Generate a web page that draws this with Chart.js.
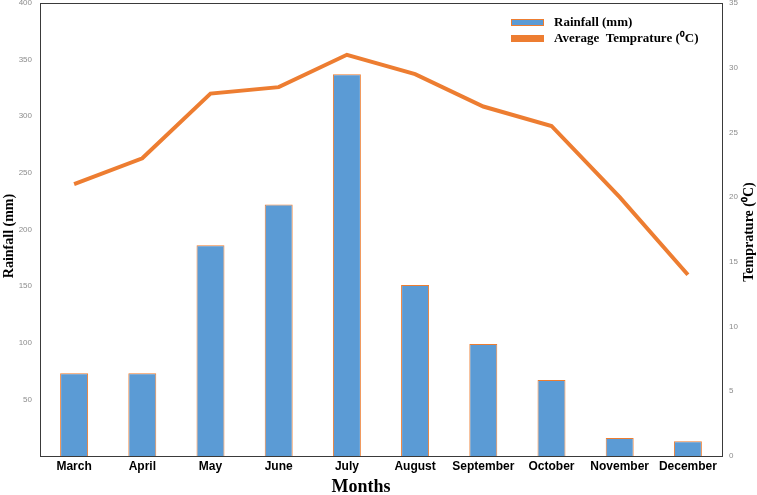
<!DOCTYPE html>
<html>
<head>
<meta charset="utf-8">
<script src="https://cdn.jsdelivr.net/npm/chart.js@4/dist/chart.umd.min.js"></script>
<style>
html,body{margin:0;padding:0;background:#fff;}
#wrap{position:relative;width:757px;height:495px;}
</style>
</head>
<body>
<div id="wrap"><canvas id="c" width="757" height="495"></canvas></div>
<script>
const months = ["March","April","May","June","July","August","September","October","November","December"];
const rainfall = [73, 73, 186, 222, 337, 151, 99, 67, 16, 13];
const temperature = [21.0, 23.0, 28.0, 28.5, 31.0, 29.5, 27.0, 25.5, 20.0, 14.0];
const rainTicks = [50, 100, 150, 200, 250, 300, 350, 400];
const tempTicks = [0, 5, 10, 15, 20, 25, 30, 35];
const xTitle = 'Months';
const leftTitle = 'Rainfall (mm)';
const rightTitle = 'Temprature (\u2070C)';

const SERIF = '"Liberation Serif", "Times New Roman", serif';

const framePlugin = {
  id: 'frame',
  afterDraw(chart) {
    const a = chart.chartArea, ctx = chart.ctx;
    ctx.save();
    ctx.strokeStyle = '#3a3a3a';
    ctx.lineWidth = 1;
    ctx.strokeRect(Math.round(a.left) + 0.5, Math.round(a.top) + 0.5, Math.round(a.right - a.left), Math.round(a.bottom - a.top));
    ctx.restore();

    ctx.save();
    ctx.fillStyle = '#000';
    ctx.textAlign = 'center';
    // x title
    ctx.font = 'bold 18px ' + SERIF;
    ctx.textBaseline = 'alphabetic';
    ctx.fillText(xTitle, 361, 492);
    // left title
    ctx.textBaseline = 'middle';
    ctx.save();
    ctx.font = 'bold 14px ' + SERIF;
    ctx.translate(9, 236);
    ctx.rotate(-Math.PI / 2);
    ctx.fillText(leftTitle, 0, 0);
    ctx.restore();
    // right title
    ctx.save();
    ctx.font = 'bold 14px ' + SERIF;
    ctx.translate(749, 232);
    ctx.rotate(-Math.PI / 2);
    ctx.fillText(rightTitle, 0, 0);
    ctx.restore();
    ctx.restore();
  }
};

const legendPlugin = {
  id: 'customLegend',
  afterDraw(chart) {
    const ctx = chart.ctx;
    ctx.save();
    const x0 = 511, w = 33, h = 7;
    const rows = [19, 35];
    chart.data.datasets.forEach((ds, i) => {
      const y = rows[i];
      ctx.fillStyle = ds.type === 'line' ? ds.borderColor : ds.backgroundColor;
      ctx.fillRect(x0, y, w, h);
      ctx.strokeStyle = '#ED7D31';
      ctx.lineWidth = 1;
      ctx.strokeRect(x0 + 0.5, y + 0.5, w - 1, h - 1);
      ctx.fillStyle = '#000';
      ctx.font = 'bold 13px ' + SERIF;
      ctx.textBaseline = 'middle';
      ctx.textAlign = 'left';
      ctx.fillText(ds.label, 554, y + h / 2);
    });
    ctx.restore();
  }
};

function noPad(axis) { axis.paddingTop = 0; axis.paddingBottom = 0; }

new Chart(document.getElementById('c'), {
  data: {
    labels: months,
    datasets: [
      {
        type: 'bar',
        label: 'Rainfall (mm)',
        data: rainfall,
        yAxisID: 'y',
        backgroundColor: '#5B9BD5',
        borderColor: '#ED7D31',
        borderWidth: 1,
        categoryPercentage: 1.0,
        barPercentage: 0.41,
        order: 1
      },
      {
        type: 'line',
        label: 'Average  Temprature (\u2070C)',
        data: temperature,
        yAxisID: 'y1',
        borderColor: '#ED7D31',
        backgroundColor: '#ED7D31',
        borderWidth: 4,
        pointRadius: 0,
        tension: 0,
        order: 0
      }
    ]
  },
  options: {
    responsive: false,
    animation: false,
    layout: { padding: { top: 3, left: 0, right: 0, bottom: 0 } },
    plugins: {
      legend: { display: false },
      tooltip: { enabled: false }
    },
    scales: {
      x: {
        grid: { display: false, drawTicks: false },
        border: { display: false },
        afterFit(axis) { axis.height = 39; axis.paddingLeft = 0; axis.paddingRight = 0; },
        ticks: {
          color: '#000',
          font: { family: '"Liberation Sans", Arial, sans-serif', weight: 'bold', size: 12 },
          maxRotation: 0,
          autoSkip: false,
          padding: 3
        },
        title: { display: false }
      },
      y: {
        position: 'left',
        min: 0,
        max: 400,
        grid: { display: false, drawTicks: false },
        border: { display: false },
        afterBuildTicks(axis) { axis.ticks = rainTicks.map(v => ({ value: v })); },
        afterFit(axis) { axis.width = 40; noPad(axis); },
        ticks: {
          color: '#8c8c8c',
          font: { family: '"Liberation Sans", Arial, sans-serif', size: 8 },
          padding: 8
        },
        title: { display: false }
      },
      y1: {
        position: 'right',
        min: 0,
        max: 35,
        grid: { display: false, drawTicks: false },
        border: { display: false },
        afterBuildTicks(axis) { axis.ticks = tempTicks.map(v => ({ value: v })); },
        afterFit(axis) { axis.width = 35; noPad(axis); },
        ticks: {
          color: '#8c8c8c',
          font: { family: '"Liberation Sans", Arial, sans-serif', size: 8 },
          padding: 7
        },
        title: { display: false }
      }
    }
  },
  plugins: [framePlugin, legendPlugin]
});
</script>
</body>
</html>
